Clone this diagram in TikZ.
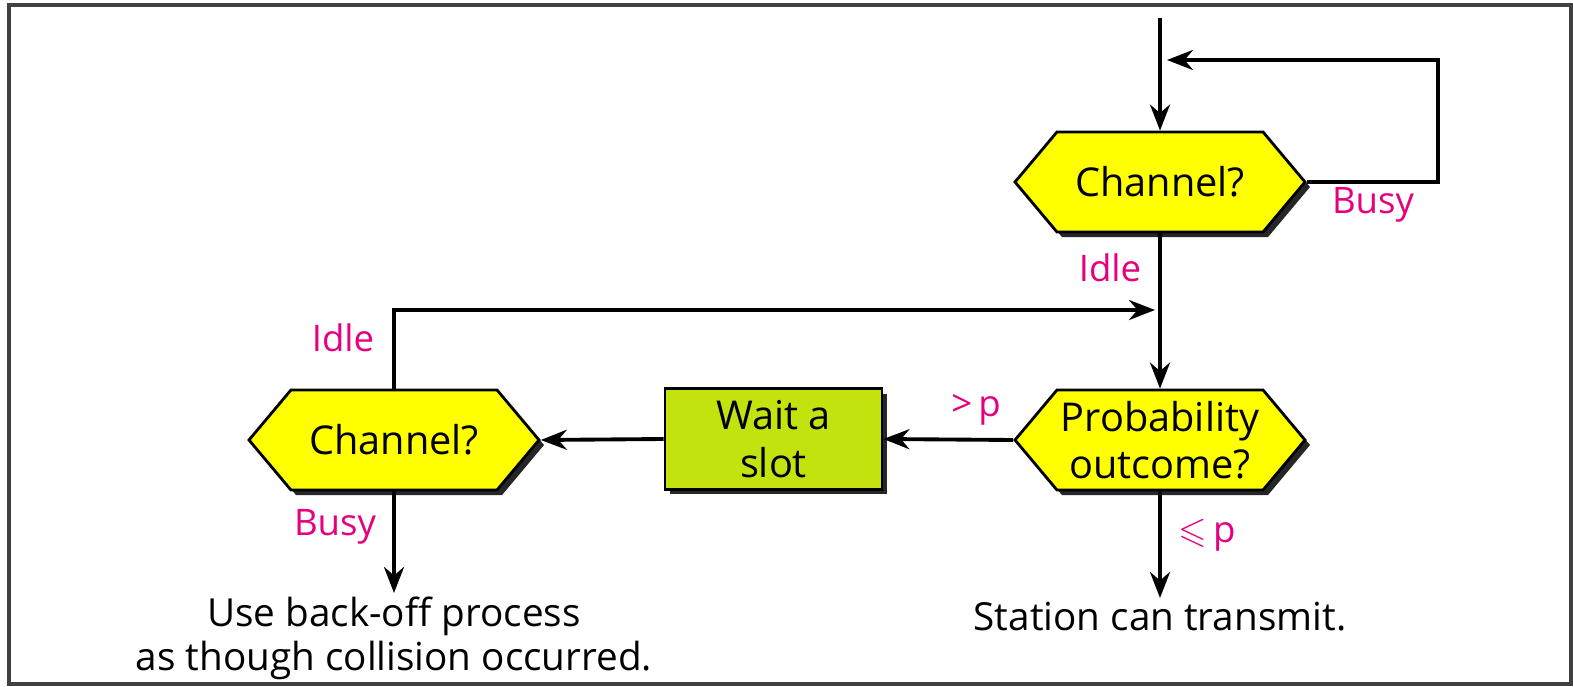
\documentclass[tikz,border=0pt]{standalone}
\usepackage{amssymb}
\usepackage{fontspec}
\setmainfont{Open Sans}
\usetikzlibrary{shapes.symbols,shadows,arrows.meta}
\definecolor{hexyellow}{RGB}{255,255,0}
\definecolor{slotgreen}{RGB}{196,226,14}
\definecolor{labelpink}{RGB}{230,0,126}

\tikzset{
  decision/.style={shape=signal, signal to=east and west, signal pointer angle=100,
    draw=black, line width=0.8pt, fill=hexyellow, minimum width=2.9cm, minimum height=1cm,
    inner sep=0pt, align=center, font=\fontsize{11.3}{13.5}\selectfont,
    drop shadow={shadow xshift=0.05cm, shadow yshift=-0.05cm, fill=black!85, opacity=1}},
  slotbox/.style={rectangle, draw=black, line width=0.8pt, fill=slotgreen,
    minimum width=2.17cm, minimum height=0.98cm, align=center,
    font=\fontsize{11.3}{13.5}\selectfont,
    drop shadow={shadow xshift=0.05cm, shadow yshift=-0.05cm, fill=black!85, opacity=1}},
  outtext/.style={align=center, font=\fontsize{11}{12.3}\selectfont, inner sep=1pt},
  answer/.style={text=labelpink, font=\fontsize{10.4}{12}\selectfont, inner sep=1pt},
  flow/.style={line width=1.1pt, -{Stealth[length=0.26cm, width=0.2cm]}}
}

\begin{document}
\begin{tikzpicture}
    \useasboundingbox (0, 0) rectangle (15.73, -6.87);
    % cadre
    \draw[draw=black!75, line width=1.2pt] (0.09, -0.05) rectangle (15.71, -6.84);

    % noeuds
    \node[decision] (chan1) at (11.60, -1.82) {Channel?};
    \node[decision] (prob) at (11.60, -4.40) {Probability\\outcome?};
    \node[slotbox] (wait) at (7.735, -4.39) {Wait a\\slot};
    \node[decision] (chan2) at (3.94, -4.40) {Channel?};
    \node[outtext, anchor=north] (backoff) at (3.94, -5.93) {Use back-off process\\as though collision occurred.};
    \node[outtext, anchor=north] (transmit) at (11.60, -5.98) {Station can transmit.};

    % points libres
    \coordinate (entry) at (11.60, -0.18);
    \coordinate (loopcorner) at (14.38, -0.60);
    \coordinate (loopend) at (11.67, -0.60);
    \coordinate (idlejoin) at (11.55, -3.10);

    % connexions
    \draw[flow] (entry) -- (chan1.north);
    \draw[flow] (chan1.east) -| (loopcorner) -- (loopend);
    \draw[flow] (chan1.south) -- (prob.north);
    \draw[flow] (chan2.north) |- (idlejoin);
    \draw[flow] (prob.west) -- (wait.east);
    \draw[flow] (wait.west) -- (chan2.east);
    \draw[flow] (chan2.south) -- (backoff.north);
    \draw[flow] (prob.south) -- (transmit.north);

    % etiquettes
    \node[answer] (busy1) at (13.73, -2.05) {Busy};
    \node[answer] (idle1) at (11.10, -2.68) {Idle};
    \node[answer] (idle2) at (3.43, -3.38) {Idle};
    \node[answer] (busy2) at (3.35, -5.27) {Busy};
    \node[answer] (more) at (9.76, -4.10) {>\,p};
    \node[answer] (less) at (12.07, -5.35) {$\leqslant$\,p};
\end{tikzpicture}
\end{document}
